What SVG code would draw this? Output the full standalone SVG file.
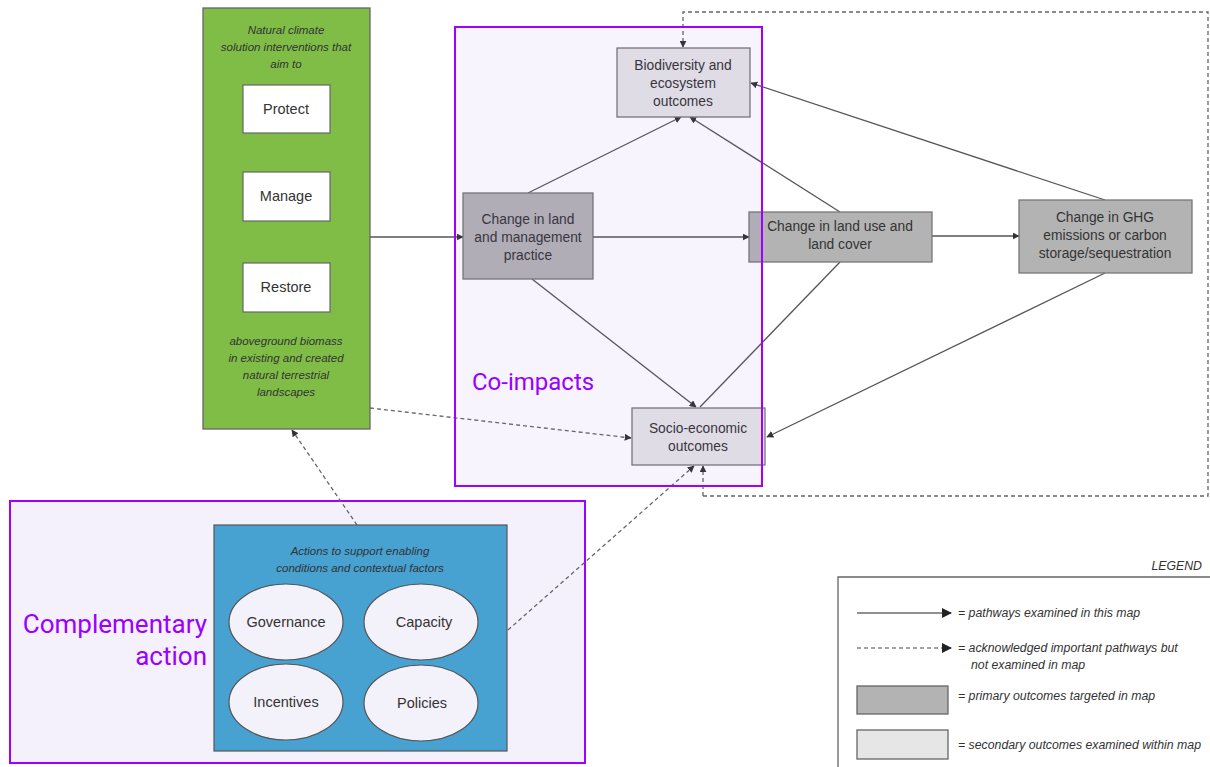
<svg xmlns="http://www.w3.org/2000/svg" width="1210" height="767" viewBox="0 0 1210 767">
<defs>
<marker id="ah" viewBox="0 0 10 10" refX="9" refY="5" markerWidth="7" markerHeight="7" markerUnits="userSpaceOnUse" orient="auto">
<path d="M0,0 L10,5 L0,10 z" fill="#333"/>
</marker>
<marker id="ahL" viewBox="0 0 10 10" refX="9" refY="5" markerWidth="10" markerHeight="10" markerUnits="userSpaceOnUse" orient="auto">
<path d="M0,0 L10,5 L0,10 z" fill="#222"/>
</marker>
<style>
.c{fill:none;stroke:#555;stroke-width:1.3}
.d{fill:none;stroke:#666;stroke-width:1.3;stroke-dasharray:4 3}
.t{font-family:"Liberation Sans",Arial,sans-serif;font-size:13.8px;fill:#333;text-anchor:middle}
.tb{font-family:"Liberation Sans",Arial,sans-serif;font-size:14.5px;fill:#333;text-anchor:middle}
.it{font-family:"Liberation Sans",Arial,sans-serif;font-size:11.5px;font-style:italic;fill:#333;text-anchor:middle}
.lt{font-family:"Liberation Sans",Arial,sans-serif;font-size:12.3px;font-style:italic;fill:#333}
.prim{fill:#b3b3b3;stroke:#777;stroke-width:1.3}
.sec{fill:#e6e6e6;stroke:#777;stroke-width:1.3}
.wb{fill:#fff;stroke:#666;stroke-width:1.2}
.el{fill:#f3f1fa;stroke:#555;stroke-width:1.2}
.pl{font-family:Roboto,"Liberation Sans",sans-serif;fill:#9a00ff}
</style>
</defs>
<rect width="1210" height="767" fill="#fff"/>

<g id="complementary-frame">
<rect x="10" y="501" width="575" height="262" fill="#f4f1fc" stroke="#a000ff" stroke-width="2"/>
<text class="pl" x="207" y="633" font-size="26" text-anchor="end">Complementary</text>
<text class="pl" x="207" y="665" font-size="26" text-anchor="end">action</text>
</g>

<g id="connectors">
<path class="c" d="M370,237 L463,237" marker-end="url(#ah)"/>
<path class="c" d="M593,237 L749,237" marker-end="url(#ah)"/>
<path class="c" d="M932,236 L1019,236" marker-end="url(#ah)"/>
<path class="c" d="M528,193 L681,117" marker-end="url(#ah)"/>
<path class="c" d="M840,212 L690,117" marker-end="url(#ah)"/>
<path class="c" d="M1105,200 L751,83" marker-end="url(#ah)"/>
<path class="c" d="M532,279 L696,407" marker-end="url(#ah)"/>
<path class="c" d="M840,262 L700,407"/>
<path class="c" d="M1105,273 L767,437" marker-end="url(#ah)"/>
<path class="d" d="M370,408 L631,438" marker-end="url(#ah)"/>
<path class="d" d="M357,525 L292,430" marker-end="url(#ah)"/>
<path class="d" d="M508,630 L694,466" marker-end="url(#ah)"/>
<path class="d" d="M703,496 L1208,496 L1208,12 L683,12 L683,47" marker-end="url(#ah)"/>
<path class="d" d="M703,496 L703,466" marker-end="url(#ah)"/>
</g>

<g id="nbs">
<rect x="203" y="8" width="167" height="421" fill="#80bd47" stroke="#666" stroke-width="1.3"/>
<text class="it" x="286" y="34">Natural climate</text>
<text class="it" x="286" y="51">solution interventions that</text>
<text class="it" x="286" y="68">aim to</text>
<text class="it" x="286" y="345">aboveground biomass</text>
<text class="it" x="286" y="362">in existing and created</text>
<text class="it" x="286" y="379">natural terrestrial</text>
<text class="it" x="286" y="396">landscapes</text>
</g>
<g id="protect">
<rect class="wb" x="243" y="85" width="87" height="48"/>
<text class="tb" x="286" y="114">Protect</text>
</g>
<g id="manage">
<rect class="wb" x="243" y="172" width="87" height="49"/>
<text class="tb" x="286" y="201">Manage</text>
</g>
<g id="restore">
<rect class="wb" x="243" y="263" width="87" height="49"/>
<text class="tb" x="286" y="292">Restore</text>
</g>

<g id="biodiversity">
<rect class="sec" x="617" y="48" width="133" height="69"/>
<text class="t" x="683" y="70">Biodiversity and</text>
<text class="t" x="683" y="88">ecosystem</text>
<text class="t" x="683" y="106">outcomes</text>
</g>
<g id="land-management">
<rect class="prim" x="463" y="193" width="130" height="86"/>
<text class="t" x="528" y="224">Change in land</text>
<text class="t" x="528" y="242">and management</text>
<text class="t" x="528" y="260">practice</text>
</g>
<g id="land-use">
<rect class="prim" x="749" y="212" width="183" height="50"/>
<text class="t" x="840" y="231">Change in land use and</text>
<text class="t" x="840" y="249">land cover</text>
</g>
<g id="ghg">
<rect class="prim" x="1019" y="200" width="173" height="73"/>
<text class="t" x="1105" y="222">Change in GHG</text>
<text class="t" x="1105" y="240">emissions or carbon</text>
<text class="t" x="1105" y="258">storage/sequestration</text>
</g>
<g id="socio">
<rect class="sec" x="632" y="408" width="133" height="57"/>
<text class="t" x="698" y="433">Socio-economic</text>
<text class="t" x="698" y="451">outcomes</text>
</g>

<g id="co-impacts">
<rect x="455" y="27" width="307" height="459" fill="#8c5cf0" fill-opacity="0.065" stroke="#a000ff" stroke-width="2"/>
<text class="pl" x="472" y="390" font-size="24">Co-impacts</text>
</g>

<g id="enabling">
<rect x="214" y="525" width="293" height="226" fill="#47a1d1" stroke="#555" stroke-width="1.2"/>
<text class="it" x="360" y="555">Actions to support enabling</text>
<text class="it" x="360" y="572">conditions and contextual factors</text>
</g>
<g id="governance">
<ellipse class="el" cx="286" cy="622" rx="57" ry="38"/>
<text class="tb" x="286" y="627">Governance</text>
</g>
<g id="capacity">
<ellipse class="el" cx="421" cy="622" rx="57" ry="38"/>
<text class="tb" x="424" y="627">Capacity</text>
</g>
<g id="incentives">
<ellipse class="el" cx="286" cy="702" rx="57" ry="38"/>
<text class="tb" x="286" y="707">Incentives</text>
</g>
<g id="policies">
<ellipse class="el" cx="421" cy="703" rx="57" ry="38"/>
<text class="tb" x="422" y="708">Policies</text>
</g>

<g id="legend">
<text class="lt" x="1202" y="570" text-anchor="end" font-size="13.5">LEGEND</text>
<path d="M838,767 L838,577 L1210,577" fill="none" stroke="#666" stroke-width="1.3"/>
<path d="M857,613 L951,613" stroke="#222" stroke-width="1.2" marker-end="url(#ahL)"/>
<text class="lt" x="958" y="617">= pathways examined in this map</text>
<path d="M857,648 L951,648" stroke="#444" stroke-width="1.2" stroke-dasharray="4 3" marker-end="url(#ahL)"/>
<text class="lt" x="958" y="652">= acknowledged important pathways but</text>
<text class="lt" x="971" y="669">not examined in map</text>
<rect x="857" y="686" width="91" height="28" fill="#b3b3b3" stroke="#666" stroke-width="1.3"/>
<text class="lt" x="958" y="700">= primary outcomes targeted in map</text>
<rect x="857" y="730" width="91" height="29" fill="#e6e6e6" stroke="#666" stroke-width="1.3"/>
<text class="lt" x="958" y="749">= secondary outcomes examined within map</text>
</g>
</svg>
